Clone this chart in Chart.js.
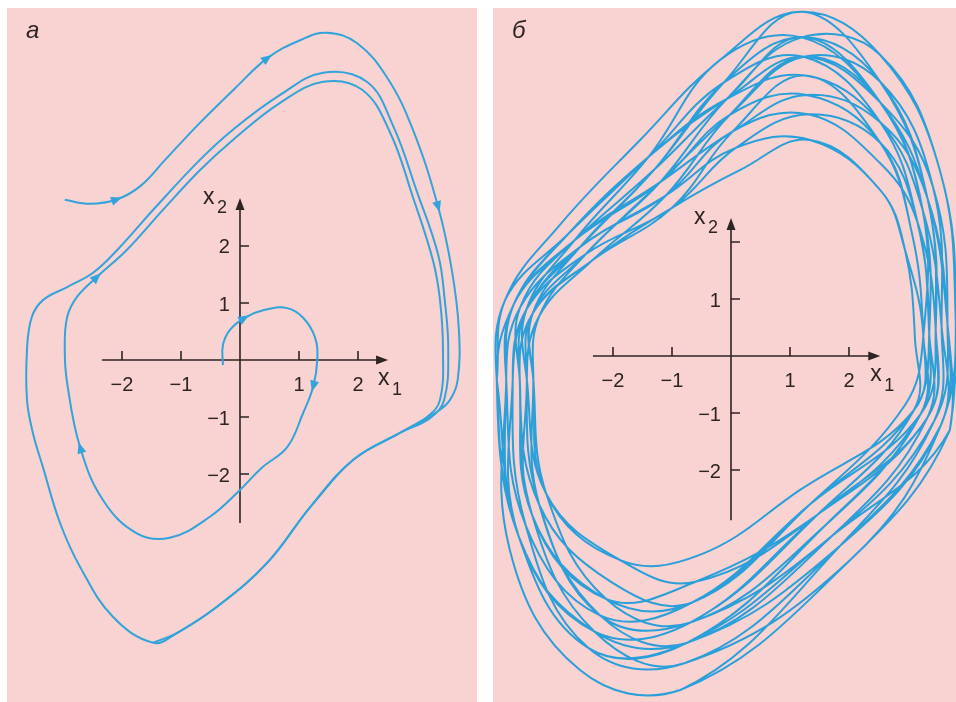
<!DOCTYPE html>
<html>
<head>
<meta charset="utf-8">
<script src="https://cdn.jsdelivr.net/npm/chart.js@4.4.1/dist/chart.umd.min.js"></script>
<style>
  body { margin: 0; background: #fff; width: 956px; height: 702px; position: relative; overflow: hidden; }
  .panel { position: absolute; top: 8px; height: 694px; background: #f8d3d1; }
  #pa { left: 7px; width: 470px; }
  #pb { left: 493px; width: 463px; }
  canvas { display: block; }
</style>
</head>
<body>
<div class="panel" id="pa"><canvas id="ca" width="470" height="694"></canvas></div>
<div class="panel" id="pb"><canvas id="cb" width="463" height="694"></canvas></div>
<script>
const BLUE = '#33a3db'
const INK = '#2e2424'

// axis ticks and their labels
const ticksX = [-2, -1, 1, 2]
const ticksY = [-2, -1, 1, 2]
const tickLabelsX = ['\u22122', '\u22121', '1', '2']
const tickLabelsYa = ['\u22122', '\u22121', '1', '2']
const tickLabelsYb = ['\u22122', '\u22121', '1', '']

// a: trajectory coming in from outside and settling onto the cycle
const outerPath = [
  [-2.97, 2.81], [-2.54, 2.74], [-2.08, 2.82], [-1.69, 3.05], [-1.27, 3.51], [-0.68, 4.16],
  [-0.08, 4.77], [0.47, 5.30], [1.02, 5.61], [1.47, 5.74], [1.98, 5.56], [2.49, 4.96],
  [2.93, 4.04], [3.36, 2.68], [3.59, 1.58], [3.71, 0.53], [3.69, -0.35], [3.56, -0.70],
  [3.34, -0.91], [3.00, -1.11], [2.71, -1.28], [1.92, -1.75], [1.19, -2.58], [0.46, -3.56],
  [-0.39, -4.33], [-1.07, -4.79], [-1.47, -4.96], [-2.15, -4.51], [-2.71, -3.63], [-3.05, -2.86],
  [-3.34, -1.88], [-3.51, -1.28], [-3.61, -0.70], [-3.61, 0.18], [-3.53, 0.75], [-3.34, 1.05],
  [-2.93, 1.28], [-2.49, 1.53], [-2.08, 1.93], [-1.44, 2.67], [-0.68, 3.51], [-0.12, 4.04],
  [0.68, 4.65], [1.41, 5.04], [2.15, 4.88], [2.59, 4.12], [3.00, 2.95], [3.36, 1.84],
  [3.47, 1.05], [3.53, 0.18], [3.46, -0.70], [3.22, -1.02], [2.71, -1.28], [1.92, -1.75],
  [1.19, -2.58]
]
const outerArrows = [2, 7, 13]

// a: trajectory unwinding from near the origin
const innerPath = [
  [-0.29, -0.09], [-0.29, 0.26], [-0.17, 0.53], [0.08, 0.74], [0.42, 0.88], [0.80, 0.91],
  [1.07, 0.74], [1.27, 0.40], [1.31, 0.00], [1.24, -0.47], [1.07, -0.93], [0.80, -1.53],
  [0.37, -1.89], [0.00, -2.28], [-0.51, -2.75], [-1.19, -3.12], [-1.75, -3.04], [-2.32, -2.46],
  [-2.71, -1.53], [-2.93, -0.40], [-2.97, 0.18], [-2.93, 0.75], [-2.76, 1.11], [-2.42, 1.46],
  [-1.92, 1.93], [-1.31, 2.63], [-0.68, 3.33], [-0.12, 3.86], [0.68, 4.51], [1.41, 4.88],
  [2.07, 4.74], [2.54, 4.00], [2.93, 2.86], [3.27, 1.75], [3.39, 1.05], [3.44, 0.18],
  [3.39, -0.70], [3.17, -1.00], [2.71, -1.28], [1.92, -1.75], [1.19, -2.58], [0.46, -3.56],
  [-0.39, -4.33], [-1.07, -4.79], [-1.47, -4.96]
]
const innerArrows = [3, 9, 18, 23]

// б: successive turns of the bounded motion
const turn1 = [[-3.97, -0.42], [-3.83, 0.98], [-2.90, 2.30], [-1.54, 3.79], [-0.19, 5.19], [1.17, 6.04], [2.53, 5.28], [3.54, 3.26], [3.81, 0.63], [3.71, -1.30], [2.02, -3.58], [-0.86, -5.86], [-2.56, -5.51], [-3.75, -3.40]]
const turn2 = [[-3.81, -0.42], [-3.68, 0.91], [-2.76, 2.14], [-1.40, 3.49], [-0.07, 4.51], [1.26, 4.92], [2.53, 4.10], [3.25, 2.56], [3.57, 0.51], [3.56, -1.21], [1.85, -3.33], [-0.74, -5.03], [-2.32, -4.83], [-3.60, -3.16]]
const turn3 = [[-3.70, -0.42], [-3.47, 0.81], [-2.56, 1.91], [-1.10, 2.82], [0.03, 3.94], [1.31, 4.24], [2.53, 3.38], [3.16, 2.35], [3.47, 0.46], [3.33, -1.08], [1.47, -2.78], [-0.60, -3.96], [-2.12, -4.26], [-3.37, -2.79]]
const turn4 = [[-3.46, -0.42], [-3.36, 0.75], [-2.36, 1.67], [-1.00, 2.60], [0.15, 3.26], [1.34, 3.79], [2.53, 2.91], [2.95, 1.86], [3.26, 0.35], [3.10, -0.95], [1.17, -2.35], [-0.53, -3.49], [-1.88, -3.58], [-3.13, -2.42]]
const turn5 = [[-3.35, -0.42], [-3.36, 0.75], [-2.56, 1.91], [-1.30, 3.27], [-0.12, 4.80], [1.20, 5.59], [2.53, 4.81], [3.33, 2.77], [3.47, 0.46], [3.22, -1.01], [1.34, -2.60], [-0.65, -4.32], [-2.22, -4.55], [-3.48, -2.97]]
const turn6 = [[-3.81, -0.42], [-3.68, 0.91], [-2.66, 2.02], [-1.20, 3.05], [-0.02, 4.23], [1.28, 4.58], [2.53, 3.74], [3.07, 2.14], [3.26, 0.35], [3.22, -1.01], [1.60, -2.97], [-0.74, -5.03], [-2.42, -5.12], [-3.60, -3.16]]
const turn7 = [[-3.97, -0.42], [-3.68, 0.91], [-2.76, 2.14], [-1.40, 3.49], [-0.07, 4.51], [1.23, 5.25], [2.53, 4.45], [3.42, 2.98], [3.67, 0.56], [3.44, -1.15], [1.72, -3.15], [-0.70, -4.68], [-2.22, -4.55], [-3.25, -2.61]]
const turn8 = [[-3.46, -0.42], [-3.25, 0.70], [-2.36, 1.67], [-1.10, 2.82], [-0.02, 4.23], [1.23, 5.25], [2.53, 4.45], [3.25, 2.56], [3.36, 0.40], [3.10, -0.95], [1.34, -2.60], [-0.65, -4.32], [-2.12, -4.26], [-3.37, -2.79]]
const turn9 = [[-3.58, -0.42], [-3.57, 0.86], [-2.66, 2.02], [-1.20, 3.05], [0.03, 3.94], [1.28, 4.58], [2.53, 4.10], [3.33, 2.77], [3.67, 0.56], [3.56, -1.21], [2.02, -3.58], [-0.79, -5.39], [-2.42, -5.12], [-3.48, -2.97]]
const turn10 = [[-3.70, -0.42], [-3.47, 0.81], [-2.46, 1.79], [-1.00, 2.60], [0.08, 3.65], [1.31, 4.24], [2.53, 3.74], [3.16, 2.35], [3.36, 0.40], [3.33, -1.08], [1.72, -3.15], [-0.74, -5.03], [-2.22, -4.55], [-3.25, -2.61]]
const turn11 = [[-3.35, -0.42], [-3.25, 0.70], [-2.46, 1.79], [-1.20, 3.05], [-0.07, 4.51], [1.20, 5.59], [2.53, 5.28], [3.54, 3.26], [3.81, 0.63], [3.56, -1.21], [1.85, -3.33], [-0.79, -5.39], [-2.32, -4.83], [-3.37, -2.79]]
const turn12 = [[-3.58, -0.42], [-3.47, 0.81], [-2.56, 1.91], [-1.30, 3.27], [-0.12, 4.80], [1.17, 6.04], [2.53, 4.81], [3.33, 2.77], [3.47, 0.46], [3.33, -1.08], [1.47, -2.78], [-0.70, -4.68], [-2.32, -4.83], [-3.60, -3.16]]
const turn13 = [[-3.81, -0.42], [-3.57, 0.86], [-2.56, 1.91], [-1.10, 2.82], [0.08, 3.65], [1.34, 3.79], [2.53, 2.91], [2.95, 1.86], [3.12, 0.28], [3.10, -0.95], [1.47, -2.78], [-0.70, -4.68], [-2.32, -4.83], [-3.60, -3.16]]
const turn14 = [[-3.97, -0.42], [-3.83, 0.98], [-2.76, 2.14], [-1.40, 3.49], [-0.12, 4.80], [1.23, 5.25], [2.53, 4.10], [3.16, 2.35], [3.36, 0.40], [3.22, -1.01], [1.60, -2.97], [-0.70, -4.68], [-2.12, -4.26], [-3.13, -2.42]]
const turn15 = [[-3.35, -0.42], [-3.36, 0.75], [-2.46, 1.79], [-1.20, 3.05], [-0.02, 4.23], [1.23, 5.25], [2.53, 4.81], [3.42, 2.98], [3.57, 0.51], [3.44, -1.15], [1.85, -3.33], [-0.86, -5.86], [-2.56, -5.51], [-3.75, -3.40]]
const turn16 = [[-3.81, -0.42], [-3.68, 0.91], [-2.66, 2.02], [-1.30, 3.27], [-0.07, 4.51], [1.20, 5.59], [2.53, 4.45], [3.25, 2.56], [3.26, 0.35], [2.95, -0.86], [1.34, -2.60], [-0.65, -4.32], [-2.02, -3.97], [-3.25, -2.61]]
const turn17 = [[-3.58, -0.42], [-3.36, 0.75], [-2.36, 1.67], [-1.00, 2.60], [0.03, 3.94], [1.26, 4.92], [2.53, 3.74], [3.07, 2.14], [3.26, 0.35], [3.22, -1.01], [1.47, -2.78], [-0.60, -3.96], [-1.88, -3.58], [-3.13, -2.42]]
const turn18 = [[-3.46, -0.42], [-3.47, 0.81], [-2.66, 2.02], [-1.40, 3.49], [-0.19, 5.19], [1.20, 5.59], [2.53, 4.45], [3.33, 2.77], [3.67, 0.56], [3.71, -1.30], [1.72, -3.15], [-0.74, -5.03], [-2.42, -5.12], [-3.60, -3.16]]

const attractor = [].concat(turn1, turn2, turn3, turn4, turn5, turn6, turn7, turn8, turn9,
  turn10, turn11, turn12, turn13, turn14, turn15, turn16, turn17, turn18, [turn1[0]])

const pts = arr => arr.map(([x, y]) => ({ x, y }))

function head(ctx, x, y, ang, len, half) {
  ctx.save()
  ctx.translate(x, y)
  ctx.rotate(ang)
  ctx.beginPath()
  ctx.moveTo(0, 0)
  ctx.lineTo(-len, -half)
  ctx.lineTo(-len, half)
  ctx.closePath()
  ctx.fill()
  ctx.restore()
}

// coordinate cross with arrows, ticks and names, drawn under the curves
const phaseAxes = {
  id: 'phaseAxes',
  beforeDatasetsDraw(chart, args, o) {
    const { ctx, scales: { x, y } } = chart
    const ox = x.getPixelForValue(0), oy = y.getPixelForValue(0)
    const left = x.getPixelForValue(o.xRange[0]), right = x.getPixelForValue(o.xRange[1])
    const bottom = y.getPixelForValue(o.yRange[0]), top = y.getPixelForValue(o.yRange[1])
    ctx.save()
    ctx.strokeStyle = INK
    ctx.fillStyle = INK
    ctx.lineWidth = 1.6
    ctx.beginPath()
    ctx.moveTo(left, oy); ctx.lineTo(right - 6, oy)
    ctx.moveTo(ox, bottom); ctx.lineTo(ox, top + 6)
    ticksX.forEach(v => { const px = x.getPixelForValue(v); ctx.moveTo(px, oy); ctx.lineTo(px, oy - 9) })
    ticksY.forEach(v => { const py = y.getPixelForValue(v); ctx.moveTo(ox, py); ctx.lineTo(ox + 9, py) })
    ctx.stroke()
    head(ctx, right, oy, 0, 12, 4.5)
    head(ctx, ox, top, -Math.PI / 2, 12, 4.5)

    ctx.font = '20px "Liberation Sans", Arial, sans-serif'
    ctx.textBaseline = 'middle'
    ctx.textAlign = 'center'
    ticksX.forEach((v, i) => ctx.fillText(tickLabelsX[i], x.getPixelForValue(v), oy + 25))
    ctx.textAlign = 'right'
    ticksY.forEach((v, i) => ctx.fillText(o.yLabels[i], ox - 10, y.getPixelForValue(v) + 2))

    ctx.textAlign = 'left'
    ctx.font = '23px "Liberation Sans", Arial, sans-serif'
    ctx.fillText('x', right - 10, oy + 19)
    ctx.fillText('x', ox - 37, top + 0)
    ctx.font = '18px "Liberation Sans", Arial, sans-serif'
    ctx.fillText('1', right + 4, oy + 30)
    ctx.fillText('2', ox - 23, top + 10)

    ctx.font = 'italic 24px "Liberation Sans", Arial, sans-serif'
    ctx.textBaseline = 'alphabetic'
    ctx.fillText(o.tag, 19, 30)
    ctx.restore()
  }
}

// direction arrows placed on chosen points of a line, along its tangent
const flowArrows = {
  id: 'flowArrows',
  afterDatasetsDraw(chart) {
    const { ctx } = chart
    chart.data.datasets.forEach((ds, di) => {
      if (!ds.arrows) return
      const els = chart.getDatasetMeta(di).data
      ctx.save()
      ctx.fillStyle = ds.borderColor
      ds.arrows.forEach(i => {
        const p = els[i]
        const a = Math.atan2(p.cp2y - p.cp1y, p.cp2x - p.cp1x)
        head(ctx, p.x + Math.cos(a) * 5, p.y + Math.sin(a) * 5, a, 11, 4.5)
      })
      ctx.restore()
    })
  }
}

const line = (data, extra) => Object.assign({
  data: pts(data),
  showLine: true,
  borderColor: BLUE,
  borderWidth: 2,
  pointRadius: 0,
  tension: 0.4,
  fill: false
}, extra)

function phaseChart(id, datasets, bounds, axes) {
  return new Chart(document.getElementById(id), {
    type: 'scatter',
    data: { datasets },
    options: {
      responsive: false,
      animation: false,
      events: [],
      layout: { padding: 0 },
      scales: {
        x: { type: 'linear', display: false, min: bounds[0], max: bounds[1] },
        y: { type: 'linear', display: false, min: bounds[2], max: bounds[3] }
      },
      plugins: {
        legend: { display: false },
        tooltip: { enabled: false },
        phaseAxes: axes
      }
    },
    plugins: [phaseAxes, flowArrows]
  })
}

phaseChart('ca', [
  line(outerPath, { arrows: outerArrows }),
  line(innerPath, { arrows: innerArrows })
], [-3.949, 4.017, -6.0, 6.175], {
  xRange: [-2.34, 2.51], yRange: [-2.86, 2.84], yLabels: tickLabelsYa, tag: 'a'
})

phaseChart('cb', [
  line(attractor, { borderColor: '#2a9fda', borderWidth: 2 })
], [-4.034, 3.814, -6.07, 6.105], {
  xRange: [-2.34, 2.53], yRange: [-2.88, 2.42], yLabels: tickLabelsYb, tag: '\u0431'
})
</script>
</body>
</html>
